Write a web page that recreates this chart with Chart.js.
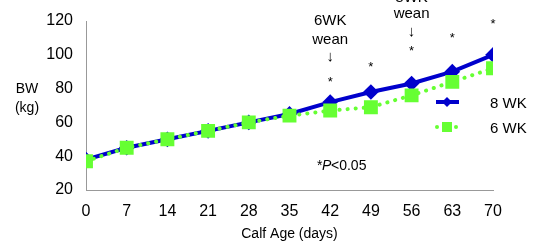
<!DOCTYPE html>
<html>
<head>
<meta charset="utf-8">
<script src="https://cdn.jsdelivr.net/npm/chart.js@4"></script>
<style>
  html, body { margin: 0; padding: 0; background: #fff; }
  #wrap { width: 542px; height: 247px; position: relative; }
</style>
</head>
<body>
<div id="wrap"><canvas id="chart" width="542" height="247"></canvas></div>
<script>
const days = [0, 7, 14, 21, 28, 35, 42, 49, 56, 63, 70];
const wean8 = [38, 45, 50, 55, 60, 65, 72, 78, 83, 90, 100];
const wean6 = [37, 45, 50, 55, 60, 64, 67, 69, 76, 84, 92];
const starDays = [42, 49, 56, 63, 70];
const yTicks = [20, 40, 60, 80, 100, 120];

const BLUE = '#0000cc';
const GREEN = '#66ff33';
const FONT = '"Liberation Sans", Arial, sans-serif';

const notes = {
  id: 'notes',
  afterDraw(chart) {
    const { ctx, scales: { x, y } } = chart;
    ctx.save();
    ctx.fillStyle = '#000';
    ctx.textAlign = 'center';
    ctx.textBaseline = 'middle';

    // y axis title, horizontal
    ctx.font = '14px ' + FONT;
    ctx.fillText('BW', 27, 89);
    ctx.fillText('(kg)', 27, 108);

    // stars
    const starY = [79, 64, 48, 35, 21];
    ctx.font = '13px ' + FONT;
    starDays.forEach((d, i) => ctx.fillText('*', x.getPixelForValue(d), starY[i] + 3));

    // wean markers
    ctx.font = '15px ' + FONT;
    const x42 = x.getPixelForValue(42), x56 = x.getPixelForValue(56);
    ctx.fillText('6WK', x42, 21);
    ctx.fillText('wean', x42, 40);
    ctx.fillText('↓', x42, 57);
    ctx.fillText('8WK', x56, -2);
    ctx.fillText('wean', x56, 14);
    ctx.fillText('↓', x56, 32);

    // p value
    ctx.font = '14px ' + FONT;
    ctx.textAlign = 'left';
    ctx.fillText('*', 317, 166);
    ctx.font = 'italic 14px ' + FONT;
    ctx.fillText('P', 322, 166);
    ctx.font = '14px ' + FONT;
    ctx.fillText('<0.05', 331, 166);

    // legend
    ctx.font = '15px ' + FONT;
    ctx.lineWidth = 4;
    ctx.strokeStyle = BLUE;
    ctx.beginPath(); ctx.moveTo(436, 102); ctx.lineTo(459, 102); ctx.stroke();
    ctx.fillStyle = BLUE;
    ctx.beginPath();
    ctx.moveTo(447, 97); ctx.lineTo(452, 102); ctx.lineTo(447, 107); ctx.lineTo(442, 102);
    ctx.closePath(); ctx.fill();
    ctx.fillStyle = GREEN;
    ctx.beginPath(); ctx.arc(437, 127, 2, 0, Math.PI * 2); ctx.fill();
    ctx.beginPath(); ctx.arc(456, 127, 2, 0, Math.PI * 2); ctx.fill();
    ctx.fillRect(442, 122, 10, 10);
    ctx.fillStyle = '#000';
    ctx.fillText('8 WK', 490, 104);
    ctx.fillText('6 WK', 490, 129);
    ctx.restore();
  }
};

new Chart(document.getElementById('chart'), {
  type: 'line',
  data: {
    labels: days,
    datasets: [
      {
        label: '6 WK', data: wean6, order: 0,
        borderColor: GREEN, backgroundColor: GREEN, borderWidth: 4,
        borderDash: [0.1, 8], borderCapStyle: 'round',
        pointStyle: 'rect', pointRadius: 7, pointHoverRadius: 7, tension: 0,
      },
      {
        label: '8 WK', data: wean8, order: 1,
        borderColor: BLUE, backgroundColor: BLUE, borderWidth: 4,
        pointStyle: 'rectRot', pointRadius: 5, pointHoverRadius: 5, tension: 0,
      },
    ],
  },
  options: {
    responsive: false,
    animation: false,
    events: [],
    layout: { padding: { top: 21, right: 49, left: 0, bottom: 0 } },
    plugins: { legend: { display: false }, tooltip: { enabled: false } },
    scales: {
      x: {
        type: 'linear', min: 0, max: 70,
        afterBuildTicks: s => { s.ticks = days.map(v => ({ value: v })); },
        afterFit: s => { s.height = 57; },
        grid: { display: false, drawTicks: true, tickLength: 5, tickColor: '#999' },
        border: { color: '#999', width: 1 },
        ticks: { color: '#000', font: { family: FONT, size: 16 }, padding: 7, maxRotation: 0 },
        title: { display: true, text: 'Calf Age (days)', color: '#000', font: { family: FONT, size: 14 }, padding: { top: 2 } },
      },
      y: {
        min: 20, max: 120,
        afterBuildTicks: s => { s.ticks = yTicks.map(v => ({ value: v })); },
        afterFit: s => { s.width = 86; },
        grid: { display: false, drawTicks: true, tickLength: 5, tickColor: '#999' },
        border: { color: '#999', width: 1 },
        ticks: { color: '#000', font: { family: FONT, size: 16 }, padding: 8 },
      },
    },
  },
  plugins: [notes],
});
</script>
</body>
</html>
